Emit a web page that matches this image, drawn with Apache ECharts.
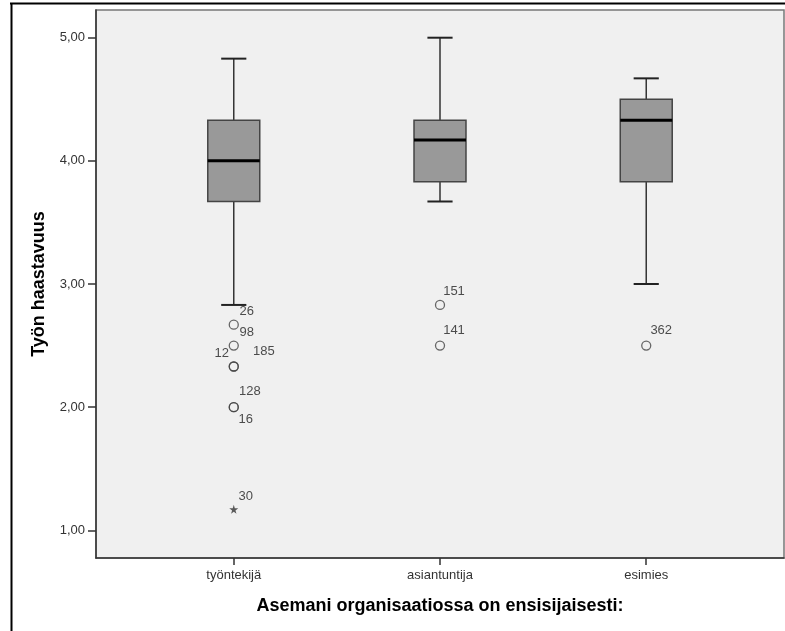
<!DOCTYPE html>
<html>
<head>
<meta charset="utf-8">
<script src="https://cdn.jsdelivr.net/npm/echarts@6/dist/echarts.min.js"></script>
<style>
html,body{margin:0;padding:0;background:#fff;}
#chart{width:785px;height:631px;}
</style>
</head>
<body>
<div id="chart"></div>
<script>
// ---- data ----
const categories = ['työntekijä', 'asiantuntija', 'esimies'];
const whiskerLow = [2.83, 3.67, 3.00];
const q1 = [3.67, 3.83, 3.83];
const median = [4.00, 4.17, 4.33];
const q3 = [4.33, 4.33, 4.50];
const whiskerHigh = [4.83, 5.00, 4.67];

const outlierCategory = [0, 0, 0, 0, 0, 0, 1, 1, 2];
const outlierValue = [2.67, 2.50, 2.33, 2.33, 2.00, 2.00, 2.83, 2.50, 2.50];
const outlierCase = ['26', '98', '12', '185', '128', '16', '151', '141', '362'];

const extremeCategory = [0];
const extremeValue = [1.17];
const extremeCase = ['30'];

const yTicks = [1, 2, 3, 4, 5];
const xTicks = [0, 1, 2];

const yTitle = 'Työn haastavuus';
const xTitle = 'Asemani organisaatiossa on ensisijaisesti:';

// ---- label placement (style, not data) ----
const labelOffset = {
  '26': [13, -13], '98': [13, -13], '12': [-12, -13], '185': [30, -15],
  '128': [16, -16], '16': [12, 12], '151': [14, -14], '141': [14, -15],
  '362': [15, -15], '30': [12, -13]
};

const boxData = categories.map((c, i) => [i, whiskerLow[i], q1[i], median[i], q3[i], whiskerHigh[i]]);
const outlierData = outlierCategory.map((c, i) => ({
  value: [c, outlierValue[i]],
  label: { offset: labelOffset[outlierCase[i]] },
  name: outlierCase[i]
}));
const extremeData = extremeCategory.map((c, i) => ({
  value: [c, extremeValue[i]],
  label: { offset: labelOffset[extremeCase[i]] },
  name: extremeCase[i]
}));

const chart = echarts.init(document.getElementById('chart'), null, { renderer: 'canvas' });
const FONT = '"Liberation Sans", Arial, sans-serif';

const option = {
  backgroundColor: '#ffffff',
  animation: false,
  textStyle: { fontFamily: FONT },
  grid: {
    left: 96, top: 10, width: 688, height: 548,
    show: true, backgroundColor: '#f0f0f0', borderColor: '#777', borderWidth: 1.5
  },
  xAxis: {
    type: 'value', min: -0.668, max: 2.668,
    splitLine: { show: false },
    axisLine: { show: true, onZero: false, lineStyle: { color: '#333', width: 1.5 } },
    axisTick: { show: true, customValues: xTicks, length: 7, lineStyle: { color: '#333', width: 1.5 } },
    axisLabel: {
      customValues: xTicks, margin: 11, fontSize: 13, color: '#333', fontFamily: FONT,
      formatter: v => categories[Math.round(v)]
    },
    name: xTitle, nameLocation: 'middle', nameGap: 39,
    nameTextStyle: { fontSize: 18, fontWeight: 'bold', color: '#000', fontFamily: FONT }
  },
  yAxis: {
    type: 'value', min: 0.775, max: 5.225,
    splitLine: { show: false },
    axisLine: { show: true, onZero: false, lineStyle: { color: '#333', width: 1.5 } },
    axisTick: { show: true, customValues: yTicks, length: 8, lineStyle: { color: '#333', width: 1.5 } },
    axisLabel: {
      customValues: yTicks, margin: 11, fontSize: 13, color: '#333', fontFamily: FONT,
      formatter: v => v.toFixed(2).replace('.', ',')
    },
    name: yTitle, nameLocation: 'middle', nameGap: 48,
    nameTextStyle: { fontSize: 18, fontWeight: 'bold', color: '#000', fontFamily: FONT }
  },
  series: [
    {
      type: 'custom',
      data: boxData,
      encode: { x: 0, y: [1, 2, 3, 4, 5] },
      z: 2,
      renderItem: function (params, api) {
        const idx = api.value(0);
        const lo = api.coord([idx, api.value(1)]);
        const b1 = api.coord([idx, api.value(2)]);
        const md = api.coord([idx, api.value(3)]);
        const b3 = api.coord([idx, api.value(4)]);
        const hi = api.coord([idx, api.value(5)]);
        const unit = api.size([1, 0])[0];
        const bw = unit * 0.252;
        const cw = unit * 0.122;
        const x = b1[0];
        const ls = { stroke: '#333', lineWidth: 1.5 };
        return {
          type: 'group',
          children: [
            { type: 'line', shape: { x1: x, y1: hi[1], x2: x, y2: b3[1] }, style: ls },
            { type: 'line', shape: { x1: x, y1: b1[1], x2: x, y2: lo[1] }, style: ls },
            { type: 'line', shape: { x1: x - cw / 2, y1: hi[1], x2: x + cw / 2, y2: hi[1] }, style: { stroke: '#222', lineWidth: 2 } },
            { type: 'line', shape: { x1: x - cw / 2, y1: lo[1], x2: x + cw / 2, y2: lo[1] }, style: { stroke: '#222', lineWidth: 2 } },
            { type: 'rect', shape: { x: x - bw / 2, y: b3[1], width: bw, height: b1[1] - b3[1] },
              style: { fill: '#999999', stroke: '#444', lineWidth: 1.5 } },
            { type: 'line', shape: { x1: x - bw / 2, y1: md[1], x2: x + bw / 2, y2: md[1] },
              style: { stroke: '#000', lineWidth: 3 } }
          ]
        };
      }
    },
    {
      type: 'scatter',
      data: outlierData,
      symbol: 'circle',
      symbolSize: 9,
      z: 3,
      itemStyle: { color: 'rgba(0,0,0,0)', borderColor: '#444', borderWidth: 1.3 },
      label: {
        show: true, position: 'inside', formatter: p => p.name,
        fontSize: 13, color: '#222', fontFamily: FONT
      }
    },
    {
      type: 'scatter',
      data: extremeData,
      symbol: 'path://M50,0 L61,35 L98,35 L68,57 L79,91 L50,70 L21,91 L32,57 L2,35 L39,35 Z',
      symbolSize: 9,
      z: 3,
      itemStyle: { color: '#333' },
      label: {
        show: true, position: 'inside', formatter: p => p.name,
        fontSize: 13, color: '#222', fontFamily: FONT
      }
    }
  ],
  graphic: [
    { type: 'line', shape: { x1: 10, y1: 3.5, x2: 785, y2: 3.5 }, style: { stroke: '#000', lineWidth: 2 }, silent: true },
    { type: 'line', shape: { x1: 11.5, y1: 3, x2: 11.5, y2: 631 }, style: { stroke: '#000', lineWidth: 2 }, silent: true }
  ]
};
chart.setOption(option);
</script>
</body>
</html>
